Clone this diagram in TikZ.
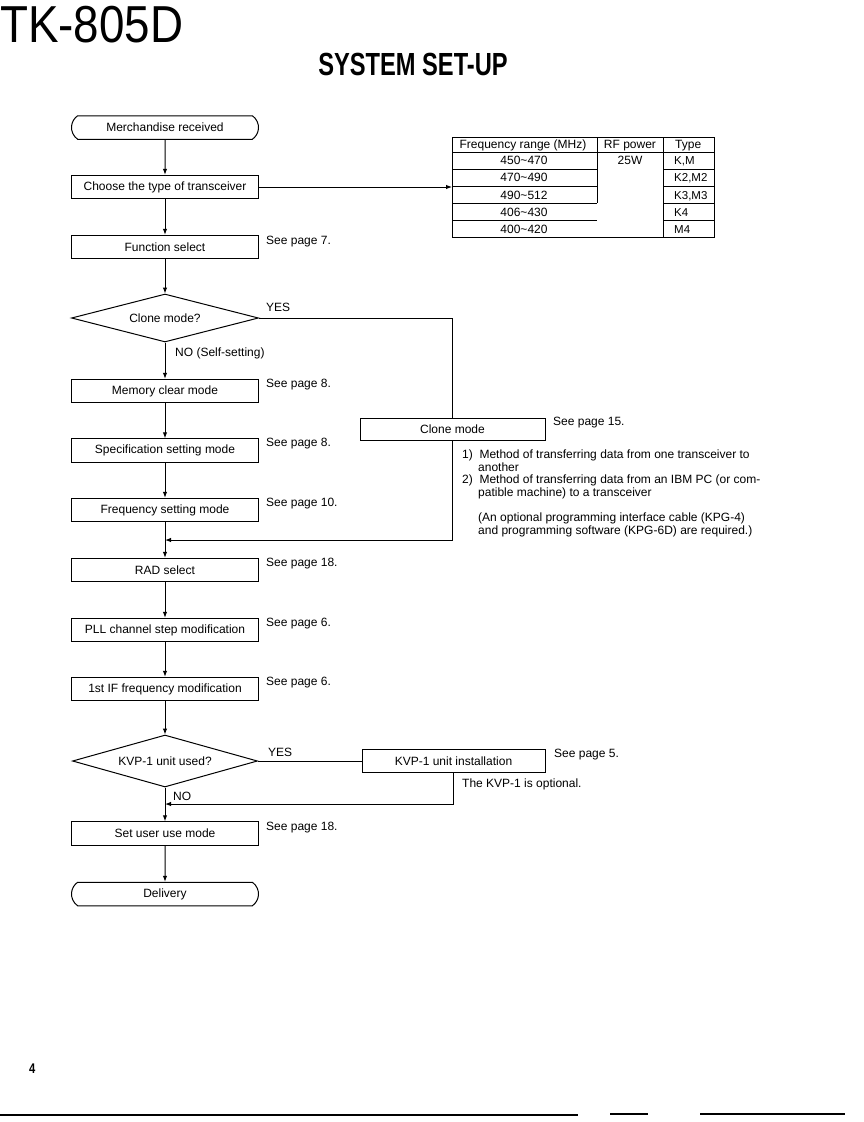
\documentclass[tikz,border=0pt]{standalone}
\usepackage{fontspec}
\setmainfont{Liberation Sans}
\usetikzlibrary{shapes.geometric,shapes.misc,arrows.meta}
\tikzset{
  txt/.style={font=\fontsize{12}{14}\selectfont},
  procbox/.style={draw, line width=1pt, rectangle, minimum width=187pt, minimum height=23.5pt, inner sep=0pt, txt},
  termbox/.style={procbox, rounded rectangle, rounded rectangle arc length=110},
  decbox/.style={draw, line width=1pt, diamond, aspect=3.9, minimum width=187pt, minimum height=48pt, inner sep=0pt, txt},
  conn/.style={line width=1pt},
  arr/.style={conn, -{Latex[length=6pt,width=4.5pt]}},
  lbl/.style={anchor=base west, inner sep=0pt, txt},
  ctr/.style={anchor=base, inner sep=0pt, txt},
  tline/.style={line width=0.9pt},
}
\begin{document}
\begin{tikzpicture}[x=1pt,y=-1pt]
\useasboundingbox (0,0) rectangle (863,1122);
% titles
\node[anchor=base west, inner sep=0pt] (title) at (0,42) {\scalebox{0.88}[1]{\fontsize{52}{52}\selectfont TK-805D}};
\node[anchor=base, inner sep=0pt] (subtitle) at (413,75) {\scalebox{0.74}[1]{\bfseries\fontsize{32}{32}\selectfont SYSTEM SET-UP}};
\node[anchor=base west, inner sep=0pt] (pageno) at (29,1073) {\scalebox{0.8}[1]{\bfseries\fontsize{14}{14}\selectfont 4}};

% main flow
\node[termbox] (m1) at (165,127.5) {Merchandise received};
\node[procbox] (choose) at (165,187) {Choose the type of transceiver};
\node[procbox] (func) at (165,247) {Function select};
\node[decbox] (clone) at (165,318) {Clone mode?};
\node[procbox] (mem) at (165,391) {Memory clear mode};
\node[procbox] (spec) at (165,450.5) {Specification setting mode};
\node[procbox] (freq) at (165,510) {Frequency setting mode};
\node[procbox] (rad) at (165,570) {RAD select};
\node[procbox] (pll) at (165,630) {PLL channel step modification};
\node[procbox] (ifm) at (165,689) {1st IF frequency modification};
\node[decbox, minimum width=185pt, minimum height=52pt] (kvp) at (165,761) {KVP-1 unit used?};
\node[procbox] (user) at (165,833.5) {Set user use mode};
\node[termbox] (deliv) at (165,894) {Delivery};

% side boxes
\node[procbox, minimum width=185pt, minimum height=22pt] (clonebox) at (452.5,429) {Clone mode};
\node[procbox, minimum width=183pt, minimum height=23pt] (kvpbox) at (453.5,761) {KVP-1 unit installation};

\coordinate (j1) at (165,540);
\coordinate (j2) at (165,804);
\coordinate (tabin) at (452,187);

% connectors
\draw[arr] (m1) -- (choose);
\draw[arr] (choose) -- (func);
\draw[arr] (choose.east) -- (tabin);
\draw[arr] (func) -- (clone.north);
\draw[arr] (clone.south) -- (mem);
\draw[arr] (mem) -- (spec);
\draw[arr] (spec) -- (freq);
\draw[arr] (freq) -- (rad);
\draw[conn] (clone.east) -| (clonebox.north);
\draw[arr] (clonebox.south) |- (j1);
\draw[arr] (rad) -- (pll);
\draw[arr] (pll) -- (ifm);
\draw[arr] (ifm) -- (kvp.north);
\draw[conn] (kvp.east) -- (kvpbox.west);
\draw[arr] (kvp.south) -- (user);
\draw[arr] (kvpbox.south) |- (j2);
\draw[arr] (user) -- (deliv);

% labels
\node[lbl] (l1) at (266,244) {See page 7.};
\node[lbl] (yes1) at (266,311) {YES};
\node[lbl] (no1) at (175,356) {NO (Self-setting)};
\node[lbl] (l2) at (266,387) {See page 8.};
\node[lbl] (l3) at (266,446) {See page 8.};
\node[lbl] (l4) at (266,506) {See page 10.};
\node[lbl] (l5) at (266,566) {See page 18.};
\node[lbl] (l6) at (266,626) {See page 6.};
\node[lbl] (l7) at (266,685) {See page 6.};
\node[lbl] (yes2) at (268,756) {YES};
\node[lbl] (no2) at (173,800) {NO};
\node[lbl] (l8) at (266,830) {See page 18.};
\node[lbl] (l9) at (553,425) {See page 15.};
\node[lbl] (l10) at (554,757) {See page 5.};
\node[lbl] (opt) at (462,787) {The KVP-1 is optional.};

% clone notes
\node[lbl] (n1) at (462,458) {1)\ \ Method of transferring data from one transceiver to};
\node[lbl] (n2) at (478,471) {another};
\node[lbl] (n3) at (462,483) {2)\ \ Method of transferring data from an IBM PC (or com-};
\node[lbl] (n4) at (478,496) {patible machine) to a transceiver};
\node[lbl] (n5) at (478,521) {(An optional programming interface cable (KPG-4)};
\node[lbl] (n6) at (478,534) {and programming software (KPG-6D) are required.)};

% table
\draw[tline] (452,137) rectangle (714,237);
\draw[tline] (452,152) -- (714,152);
\foreach \yy in {169,186,203,220} {
  \draw[tline] (452,\yy) -- (597,\yy);
  \draw[tline] (663,\yy) -- (714,\yy);
}
\draw[tline] (597,137) -- (597,203);
\draw[tline] (663,137) -- (663,237);
\node[ctr] (th1) at (523,148) {Frequency range (MHz)};
\node[ctr] (th2) at (630,148) {RF power};
\node[lbl] (th3) at (675,148) {Type};
\node[ctr] (f1) at (524,164) {450\textasciitilde470};
\node[ctr] (f2) at (524,181) {470\textasciitilde490};
\node[ctr] (f3) at (524,199) {490\textasciitilde512};
\node[ctr] (f4) at (524,216) {406\textasciitilde430};
\node[ctr] (f5) at (524,233) {400\textasciitilde420};
\node[ctr] (p1) at (630,164) {25W};
\node[lbl, font=\fontsize{11.5}{14}\selectfont] (t1) at (674,164) {K,M};
\node[lbl, font=\fontsize{11.5}{14}\selectfont] (t2) at (674,181) {K2,M2};
\node[lbl, font=\fontsize{11.5}{14}\selectfont] (t3) at (674,199) {K3,M3};
\node[lbl, font=\fontsize{11.5}{14}\selectfont] (t4) at (674,216) {K4};
\node[lbl, font=\fontsize{11.5}{14}\selectfont] (t5) at (674,233) {M4};

% bottom rule
\draw[line width=2.2pt] (0,1115) -- (578,1115);
\draw[line width=1.5pt] (610,1114) -- (648,1114);
\draw[line width=2pt] (700,1114) -- (845,1114);
\end{tikzpicture}
\end{document}
